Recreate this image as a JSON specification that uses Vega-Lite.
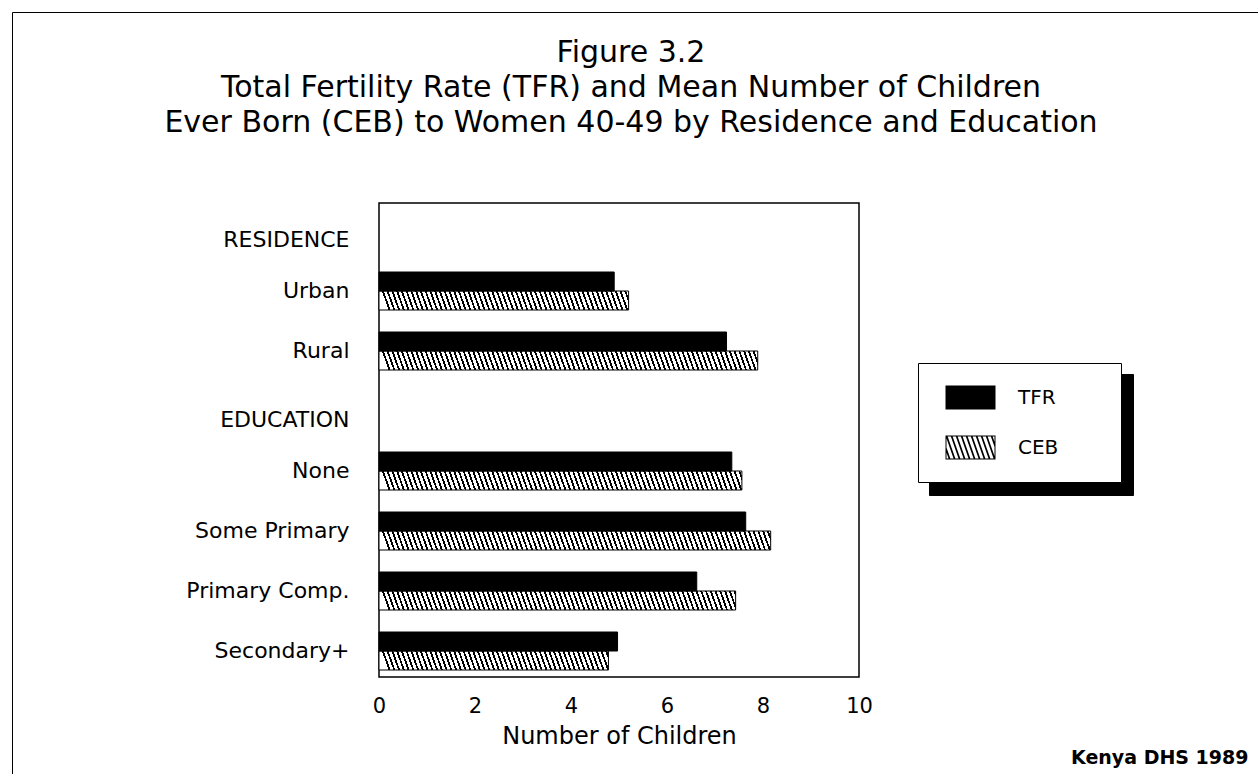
{
  "$schema": "https://vega.github.io/schema/vega-lite/v6.json",
  "width": 480,
  "height": 474,
  "autosize": {"type": "none"},
  "padding": {"left": 379, "top": 203, "right": 399, "bottom": 97},
  "background": "white",
  "title": {
    "text": ["Figure 3.2", "Total Fertility Rate (TFR) and Mean Number of Children", "Ever Born (CEB) to Women 40-49 by Residence and Education"],
    "font": "DejaVu Sans",
    "fontSize": 30,
    "fontWeight": "normal",
    "color": "black",
    "lineHeight": 35,
    "anchor": "middle",
    "frame": "group",
    "offset": -126,
    "dx": 12
  },
  "config": {
    "font": "DejaVu Sans",
    "view": {"stroke": "black", "strokeWidth": 1.5},
    "axisX": {"domain": false, "ticks": false, "grid": false, "labelFontSize": 21, "labelColor": "black", "labelPadding": 18, "labelFlush": false, "titleFontSize": 24, "titleFontWeight": "normal", "titleColor": "black", "titlePadding": 8},
    "axisY": {"domain": false, "ticks": false, "grid": false, "labelFontSize": 22, "labelColor": "black", "labelPadding": 30, "labelLimit": 300}
  },
  "data": {
    "values": [
      {"cat": "Urban", "series": "TFR", "value": 4.9},
      {"cat": "Urban", "series": "CEB", "value": 5.2},
      {"cat": "Rural", "series": "TFR", "value": 7.24},
      {"cat": "Rural", "series": "CEB", "value": 7.89},
      {"cat": "None", "series": "TFR", "value": 7.35},
      {"cat": "None", "series": "CEB", "value": 7.56},
      {"cat": "Some Primary", "series": "TFR", "value": 7.64},
      {"cat": "Some Primary", "series": "CEB", "value": 8.16},
      {"cat": "Primary Comp.", "series": "TFR", "value": 6.62},
      {"cat": "Primary Comp.", "series": "CEB", "value": 7.43},
      {"cat": "Secondary+", "series": "TFR", "value": 4.97},
      {"cat": "Secondary+", "series": "CEB", "value": 4.78}
    ]
  },
  "encoding": {
    "y": {
      "field": "cat",
      "type": "nominal",
      "scale": {"domain": ["RESIDENCE", "Urban", "Rural", "EDUCATION", "None", "Some Primary", "Primary Comp.", "Secondary+"], "paddingInner": 0.35, "paddingOuter": 0.1, "round": true},
      "axis": {
        "title": "Kenya DHS 1989",
        "titleAngle": 0,
        "titleX": 869,
        "titleY": 560,
        "titleAlign": "right",
        "titleBaseline": "alphabetic",
        "titleFontSize": 19,
        "titleFontWeight": "bold",
        "titleColor": "black",
        "labelOffset": {"condition": {"test": "datum.value === 'RESIDENCE' || datum.value === 'EDUCATION'", "value": 9}, "value": 0}
      }
    },
    "yOffset": {
      "field": "series",
      "type": "nominal",
      "scale": {"domain": ["TFR", "CEB"], "paddingInner": 0, "paddingOuter": 0, "round": true}
    },
    "x": {
      "field": "value",
      "type": "quantitative",
      "scale": {"domain": [0, 10], "nice": false},
      "axis": {"title": "Number of Children", "values": [0, 2, 4, 6, 8, 10]}
    }
  },
  "layer": [
    {
      "transform": [{"filter": "datum.series === 'CEB'"}],
      "mark": {
        "type": "bar",
        "strokeWidth": 0,
        "fill": {
          "gradient": "linear", "x1": 0, "y1": 0, "x2": 1, "y2": -0.0143,
          "stops": [
{"offset":0,"color":"#fff"},{"offset":0.006,"color":"#fff"},{"offset":0.006,"color":"#000"},{"offset":0.01,"color":"#000"},
{"offset":0.01,"color":"#fff"},{"offset":0.016,"color":"#fff"},{"offset":0.016,"color":"#000"},{"offset":0.02,"color":"#000"},
{"offset":0.02,"color":"#fff"},{"offset":0.026,"color":"#fff"},{"offset":0.026,"color":"#000"},{"offset":0.03,"color":"#000"},
{"offset":0.03,"color":"#fff"},{"offset":0.036,"color":"#fff"},{"offset":0.036,"color":"#000"},{"offset":0.04,"color":"#000"},
{"offset":0.04,"color":"#fff"},{"offset":0.046,"color":"#fff"},{"offset":0.046,"color":"#000"},{"offset":0.05,"color":"#000"},
{"offset":0.05,"color":"#fff"},{"offset":0.056,"color":"#fff"},{"offset":0.056,"color":"#000"},{"offset":0.06,"color":"#000"},
{"offset":0.06,"color":"#fff"},{"offset":0.066,"color":"#fff"},{"offset":0.066,"color":"#000"},{"offset":0.07,"color":"#000"},
{"offset":0.07,"color":"#fff"},{"offset":0.076,"color":"#fff"},{"offset":0.076,"color":"#000"},{"offset":0.08,"color":"#000"},
{"offset":0.08,"color":"#fff"},{"offset":0.086,"color":"#fff"},{"offset":0.086,"color":"#000"},{"offset":0.09,"color":"#000"},
{"offset":0.09,"color":"#fff"},{"offset":0.096,"color":"#fff"},{"offset":0.096,"color":"#000"},{"offset":0.1,"color":"#000"},
{"offset":0.1,"color":"#fff"},{"offset":0.106,"color":"#fff"},{"offset":0.106,"color":"#000"},{"offset":0.11,"color":"#000"},
{"offset":0.11,"color":"#fff"},{"offset":0.116,"color":"#fff"},{"offset":0.116,"color":"#000"},{"offset":0.12,"color":"#000"},
{"offset":0.12,"color":"#fff"},{"offset":0.126,"color":"#fff"},{"offset":0.126,"color":"#000"},{"offset":0.13,"color":"#000"},
{"offset":0.13,"color":"#fff"},{"offset":0.136,"color":"#fff"},{"offset":0.136,"color":"#000"},{"offset":0.14,"color":"#000"},
{"offset":0.14,"color":"#fff"},{"offset":0.146,"color":"#fff"},{"offset":0.146,"color":"#000"},{"offset":0.15,"color":"#000"},
{"offset":0.15,"color":"#fff"},{"offset":0.156,"color":"#fff"},{"offset":0.156,"color":"#000"},{"offset":0.16,"color":"#000"},
{"offset":0.16,"color":"#fff"},{"offset":0.166,"color":"#fff"},{"offset":0.166,"color":"#000"},{"offset":0.17,"color":"#000"},
{"offset":0.17,"color":"#fff"},{"offset":0.176,"color":"#fff"},{"offset":0.176,"color":"#000"},{"offset":0.18,"color":"#000"},
{"offset":0.18,"color":"#fff"},{"offset":0.186,"color":"#fff"},{"offset":0.186,"color":"#000"},{"offset":0.19,"color":"#000"},
{"offset":0.19,"color":"#fff"},{"offset":0.196,"color":"#fff"},{"offset":0.196,"color":"#000"},{"offset":0.2,"color":"#000"},
{"offset":0.2,"color":"#fff"},{"offset":0.206,"color":"#fff"},{"offset":0.206,"color":"#000"},{"offset":0.21,"color":"#000"},
{"offset":0.21,"color":"#fff"},{"offset":0.216,"color":"#fff"},{"offset":0.216,"color":"#000"},{"offset":0.22,"color":"#000"},
{"offset":0.22,"color":"#fff"},{"offset":0.226,"color":"#fff"},{"offset":0.226,"color":"#000"},{"offset":0.23,"color":"#000"},
{"offset":0.23,"color":"#fff"},{"offset":0.236,"color":"#fff"},{"offset":0.236,"color":"#000"},{"offset":0.24,"color":"#000"},
{"offset":0.24,"color":"#fff"},{"offset":0.246,"color":"#fff"},{"offset":0.246,"color":"#000"},{"offset":0.25,"color":"#000"},
{"offset":0.25,"color":"#fff"},{"offset":0.256,"color":"#fff"},{"offset":0.256,"color":"#000"},{"offset":0.26,"color":"#000"},
{"offset":0.26,"color":"#fff"},{"offset":0.266,"color":"#fff"},{"offset":0.266,"color":"#000"},{"offset":0.27,"color":"#000"},
{"offset":0.27,"color":"#fff"},{"offset":0.276,"color":"#fff"},{"offset":0.276,"color":"#000"},{"offset":0.28,"color":"#000"},
{"offset":0.28,"color":"#fff"},{"offset":0.286,"color":"#fff"},{"offset":0.286,"color":"#000"},{"offset":0.29,"color":"#000"},
{"offset":0.29,"color":"#fff"},{"offset":0.296,"color":"#fff"},{"offset":0.296,"color":"#000"},{"offset":0.3,"color":"#000"},
{"offset":0.3,"color":"#fff"},{"offset":0.306,"color":"#fff"},{"offset":0.306,"color":"#000"},{"offset":0.31,"color":"#000"},
{"offset":0.31,"color":"#fff"},{"offset":0.316,"color":"#fff"},{"offset":0.316,"color":"#000"},{"offset":0.32,"color":"#000"},
{"offset":0.32,"color":"#fff"},{"offset":0.326,"color":"#fff"},{"offset":0.326,"color":"#000"},{"offset":0.33,"color":"#000"},
{"offset":0.33,"color":"#fff"},{"offset":0.336,"color":"#fff"},{"offset":0.336,"color":"#000"},{"offset":0.34,"color":"#000"},
{"offset":0.34,"color":"#fff"},{"offset":0.346,"color":"#fff"},{"offset":0.346,"color":"#000"},{"offset":0.35,"color":"#000"},
{"offset":0.35,"color":"#fff"},{"offset":0.356,"color":"#fff"},{"offset":0.356,"color":"#000"},{"offset":0.36,"color":"#000"},
{"offset":0.36,"color":"#fff"},{"offset":0.366,"color":"#fff"},{"offset":0.366,"color":"#000"},{"offset":0.37,"color":"#000"},
{"offset":0.37,"color":"#fff"},{"offset":0.376,"color":"#fff"},{"offset":0.376,"color":"#000"},{"offset":0.38,"color":"#000"},
{"offset":0.38,"color":"#fff"},{"offset":0.386,"color":"#fff"},{"offset":0.386,"color":"#000"},{"offset":0.39,"color":"#000"},
{"offset":0.39,"color":"#fff"},{"offset":0.396,"color":"#fff"},{"offset":0.396,"color":"#000"},{"offset":0.4,"color":"#000"},
{"offset":0.4,"color":"#fff"},{"offset":0.406,"color":"#fff"},{"offset":0.406,"color":"#000"},{"offset":0.41,"color":"#000"},
{"offset":0.41,"color":"#fff"},{"offset":0.416,"color":"#fff"},{"offset":0.416,"color":"#000"},{"offset":0.42,"color":"#000"},
{"offset":0.42,"color":"#fff"},{"offset":0.426,"color":"#fff"},{"offset":0.426,"color":"#000"},{"offset":0.43,"color":"#000"},
{"offset":0.43,"color":"#fff"},{"offset":0.436,"color":"#fff"},{"offset":0.436,"color":"#000"},{"offset":0.44,"color":"#000"},
{"offset":0.44,"color":"#fff"},{"offset":0.446,"color":"#fff"},{"offset":0.446,"color":"#000"},{"offset":0.45,"color":"#000"},
{"offset":0.45,"color":"#fff"},{"offset":0.456,"color":"#fff"},{"offset":0.456,"color":"#000"},{"offset":0.46,"color":"#000"},
{"offset":0.46,"color":"#fff"},{"offset":0.466,"color":"#fff"},{"offset":0.466,"color":"#000"},{"offset":0.47,"color":"#000"},
{"offset":0.47,"color":"#fff"},{"offset":0.476,"color":"#fff"},{"offset":0.476,"color":"#000"},{"offset":0.48,"color":"#000"},
{"offset":0.48,"color":"#fff"},{"offset":0.486,"color":"#fff"},{"offset":0.486,"color":"#000"},{"offset":0.49,"color":"#000"},
{"offset":0.49,"color":"#fff"},{"offset":0.496,"color":"#fff"},{"offset":0.496,"color":"#000"},{"offset":0.5,"color":"#000"},
{"offset":0.5,"color":"#fff"},{"offset":0.506,"color":"#fff"},{"offset":0.506,"color":"#000"},{"offset":0.51,"color":"#000"},
{"offset":0.51,"color":"#fff"},{"offset":0.516,"color":"#fff"},{"offset":0.516,"color":"#000"},{"offset":0.52,"color":"#000"},
{"offset":0.52,"color":"#fff"},{"offset":0.526,"color":"#fff"},{"offset":0.526,"color":"#000"},{"offset":0.53,"color":"#000"},
{"offset":0.53,"color":"#fff"},{"offset":0.536,"color":"#fff"},{"offset":0.536,"color":"#000"},{"offset":0.54,"color":"#000"},
{"offset":0.54,"color":"#fff"},{"offset":0.546,"color":"#fff"},{"offset":0.546,"color":"#000"},{"offset":0.55,"color":"#000"},
{"offset":0.55,"color":"#fff"},{"offset":0.556,"color":"#fff"},{"offset":0.556,"color":"#000"},{"offset":0.56,"color":"#000"},
{"offset":0.56,"color":"#fff"},{"offset":0.566,"color":"#fff"},{"offset":0.566,"color":"#000"},{"offset":0.57,"color":"#000"},
{"offset":0.57,"color":"#fff"},{"offset":0.576,"color":"#fff"},{"offset":0.576,"color":"#000"},{"offset":0.58,"color":"#000"},
{"offset":0.58,"color":"#fff"},{"offset":0.586,"color":"#fff"},{"offset":0.586,"color":"#000"},{"offset":0.59,"color":"#000"},
{"offset":0.59,"color":"#fff"},{"offset":0.596,"color":"#fff"},{"offset":0.596,"color":"#000"},{"offset":0.6,"color":"#000"},
{"offset":0.6,"color":"#fff"},{"offset":0.606,"color":"#fff"},{"offset":0.606,"color":"#000"},{"offset":0.61,"color":"#000"},
{"offset":0.61,"color":"#fff"},{"offset":0.616,"color":"#fff"},{"offset":0.616,"color":"#000"},{"offset":0.62,"color":"#000"},
{"offset":0.62,"color":"#fff"},{"offset":0.626,"color":"#fff"},{"offset":0.626,"color":"#000"},{"offset":0.63,"color":"#000"},
{"offset":0.63,"color":"#fff"},{"offset":0.636,"color":"#fff"},{"offset":0.636,"color":"#000"},{"offset":0.64,"color":"#000"},
{"offset":0.64,"color":"#fff"},{"offset":0.646,"color":"#fff"},{"offset":0.646,"color":"#000"},{"offset":0.65,"color":"#000"},
{"offset":0.65,"color":"#fff"},{"offset":0.656,"color":"#fff"},{"offset":0.656,"color":"#000"},{"offset":0.66,"color":"#000"},
{"offset":0.66,"color":"#fff"},{"offset":0.666,"color":"#fff"},{"offset":0.666,"color":"#000"},{"offset":0.67,"color":"#000"},
{"offset":0.67,"color":"#fff"},{"offset":0.676,"color":"#fff"},{"offset":0.676,"color":"#000"},{"offset":0.68,"color":"#000"},
{"offset":0.68,"color":"#fff"},{"offset":0.686,"color":"#fff"},{"offset":0.686,"color":"#000"},{"offset":0.69,"color":"#000"},
{"offset":0.69,"color":"#fff"},{"offset":0.696,"color":"#fff"},{"offset":0.696,"color":"#000"},{"offset":0.7,"color":"#000"},
{"offset":0.7,"color":"#fff"},{"offset":0.706,"color":"#fff"},{"offset":0.706,"color":"#000"},{"offset":0.71,"color":"#000"},
{"offset":0.71,"color":"#fff"},{"offset":0.716,"color":"#fff"},{"offset":0.716,"color":"#000"},{"offset":0.72,"color":"#000"},
{"offset":0.72,"color":"#fff"},{"offset":0.726,"color":"#fff"},{"offset":0.726,"color":"#000"},{"offset":0.73,"color":"#000"},
{"offset":0.73,"color":"#fff"},{"offset":0.736,"color":"#fff"},{"offset":0.736,"color":"#000"},{"offset":0.74,"color":"#000"},
{"offset":0.74,"color":"#fff"},{"offset":0.746,"color":"#fff"},{"offset":0.746,"color":"#000"},{"offset":0.75,"color":"#000"},
{"offset":0.75,"color":"#fff"},{"offset":0.756,"color":"#fff"},{"offset":0.756,"color":"#000"},{"offset":0.76,"color":"#000"},
{"offset":0.76,"color":"#fff"},{"offset":0.766,"color":"#fff"},{"offset":0.766,"color":"#000"},{"offset":0.77,"color":"#000"},
{"offset":0.77,"color":"#fff"},{"offset":0.776,"color":"#fff"},{"offset":0.776,"color":"#000"},{"offset":0.78,"color":"#000"},
{"offset":0.78,"color":"#fff"},{"offset":0.786,"color":"#fff"},{"offset":0.786,"color":"#000"},{"offset":0.79,"color":"#000"},
{"offset":0.79,"color":"#fff"},{"offset":0.796,"color":"#fff"},{"offset":0.796,"color":"#000"},{"offset":0.8,"color":"#000"},
{"offset":0.8,"color":"#fff"},{"offset":0.806,"color":"#fff"},{"offset":0.806,"color":"#000"},{"offset":0.81,"color":"#000"},
{"offset":0.81,"color":"#fff"},{"offset":0.816,"color":"#fff"},{"offset":0.816,"color":"#000"},{"offset":0.82,"color":"#000"},
{"offset":0.82,"color":"#fff"},{"offset":0.826,"color":"#fff"},{"offset":0.826,"color":"#000"},{"offset":0.83,"color":"#000"},
{"offset":0.83,"color":"#fff"},{"offset":0.836,"color":"#fff"},{"offset":0.836,"color":"#000"},{"offset":0.84,"color":"#000"},
{"offset":0.84,"color":"#fff"},{"offset":0.846,"color":"#fff"},{"offset":0.846,"color":"#000"},{"offset":0.85,"color":"#000"},
{"offset":0.85,"color":"#fff"},{"offset":0.856,"color":"#fff"},{"offset":0.856,"color":"#000"},{"offset":0.86,"color":"#000"},
{"offset":0.86,"color":"#fff"},{"offset":0.866,"color":"#fff"},{"offset":0.866,"color":"#000"},{"offset":0.87,"color":"#000"},
{"offset":0.87,"color":"#fff"},{"offset":0.876,"color":"#fff"},{"offset":0.876,"color":"#000"},{"offset":0.88,"color":"#000"},
{"offset":0.88,"color":"#fff"},{"offset":0.886,"color":"#fff"},{"offset":0.886,"color":"#000"},{"offset":0.89,"color":"#000"},
{"offset":0.89,"color":"#fff"},{"offset":0.896,"color":"#fff"},{"offset":0.896,"color":"#000"},{"offset":0.9,"color":"#000"},
{"offset":0.9,"color":"#fff"},{"offset":0.906,"color":"#fff"},{"offset":0.906,"color":"#000"},{"offset":0.91,"color":"#000"},
{"offset":0.91,"color":"#fff"},{"offset":0.916,"color":"#fff"},{"offset":0.916,"color":"#000"},{"offset":0.92,"color":"#000"},
{"offset":0.92,"color":"#fff"},{"offset":0.926,"color":"#fff"},{"offset":0.926,"color":"#000"},{"offset":0.93,"color":"#000"},
{"offset":0.93,"color":"#fff"},{"offset":0.936,"color":"#fff"},{"offset":0.936,"color":"#000"},{"offset":0.94,"color":"#000"},
{"offset":0.94,"color":"#fff"},{"offset":0.946,"color":"#fff"},{"offset":0.946,"color":"#000"},{"offset":0.95,"color":"#000"},
{"offset":0.95,"color":"#fff"},{"offset":0.956,"color":"#fff"},{"offset":0.956,"color":"#000"},{"offset":0.96,"color":"#000"},
{"offset":0.96,"color":"#fff"},{"offset":0.966,"color":"#fff"},{"offset":0.966,"color":"#000"},{"offset":0.97,"color":"#000"},
{"offset":0.97,"color":"#fff"},{"offset":0.976,"color":"#fff"},{"offset":0.976,"color":"#000"},{"offset":0.98,"color":"#000"},
{"offset":0.98,"color":"#fff"},{"offset":0.986,"color":"#fff"},{"offset":0.986,"color":"#000"},{"offset":0.99,"color":"#000"},
{"offset":0.99,"color":"#fff"},{"offset":0.996,"color":"#fff"},{"offset":0.996,"color":"#000"},{"offset":1,"color":"#000"}
          ]
        }
      },
      "encoding": {
        "x": {"datum": 0, "type": "quantitative", "scale": {"domain": [0, 10], "nice": false}, "axis": {"title": "Number of Children", "values": [0, 2, 4, 6, 8, 10]}},
        "x2": {"datum": 9.9}
      }
    },
    {
      "transform": [{"filter": "datum.series === 'CEB'"}],
      "mark": {"type": "bar", "fill": "white", "strokeWidth": 0},
      "encoding": {
        "x2": {"datum": 9.97},
        "strokeDash": {
          "field": "series",
          "type": "nominal",
          "scale": {"domain": ["CEB"], "range": [[1, 0]]},
          "legend": {
            "orient": "none",
            "legendX": -367,
            "legendY": -191,
            "title": null,
            "zindex": 0,
            "symbolType": "M-1,-1M1245,775",
            "symbolSize": 4,
            "symbolOpacity": 0,
            "labelExpr": "''",
            "padding": 0,
            "fillColor": "transparent",
            "strokeColor": "black"
          }
        }
      }
    },
    {
      "mark": {"type": "bar", "stroke": "black", "strokeWidth": 1},
      "encoding": {
        "x2": {"datum": 0},
        "fill": {
          "field": "series",
          "type": "nominal",
          "scale": {"domain": ["CEB", "TFR"], "range": ["transparent", "black"]},
          "legend": {
            "orient": "none",
            "legendX": 550,
            "legendY": 171,
            "direction": "vertical",
            "title": null,
            "zindex": 1,
            "symbolType": "M-0.28,-0.48H1.72V0.48H-0.28ZM-1,-1M6.36,1",
            "symbolSize": 2500,
            "symbolOpacity": 0,
            "labelExpr": "''",
            "labelFontSize": 20,
            "labelOffset": 40.5,
            "padding": 9.5,
            "rowPadding": -2,
            "fillColor": "black",
            "strokeColor": "black"
          }
        }
      }
    },
    {
      "mark": {"type": "point", "filled": true, "color": "black", "opacity": 0, "size": 2500, "strokeWidth": 0},
      "encoding": {
        "shape": {
          "field": "series",
          "type": "nominal",
          "scale": {
            "domain": ["TFR", "CEB"],
            "range": [
              "M-0.28,-0.48H1.72V0.48H-0.28ZM-1,-1M6.36,1",
              "M-0.28,-0.48H1.72V-0.44H-0.28ZM-0.28,0.44H1.72V0.48H-0.28ZM-0.28,-0.48H-0.24V0.48H-0.28ZM1.68,-0.48H1.72V0.48H1.68ZM-0.28,-0.114L-0.072,0.48H-0.144L-0.28,0.091ZM-0.28,-0.48H-0.208L0.128,0.48H0.056ZM-0.08,-0.48H-0.008L0.328,0.48H0.256ZM0.12,-0.48H0.192L0.528,0.48H0.456ZM0.32,-0.48H0.392L0.728,0.48H0.656ZM0.52,-0.48H0.592L0.928,0.48H0.856ZM0.72,-0.48H0.792L1.128,0.48H1.056ZM0.92,-0.48H0.992L1.328,0.48H1.256ZM1.12,-0.48H1.192L1.528,0.48H1.456ZM1.32,-0.48H1.392L1.72,0.458V0.48H1.656ZM1.52,-0.48H1.592L1.72,-0.114V0.091ZM-1,-1M6.36,1"
            ]
          },
          "legend": {
            "orient": "none",
            "legendX": 539,
            "legendY": 160,
            "direction": "vertical",
            "title": null,
            "zindex": 2,
            "symbolSize": 2500,
            "symbolOpacity": 1,
            "symbolFillColor": "black",
            "symbolStrokeWidth": 0,
            "labelFont": "DejaVu Sans",
            "labelFontSize": 20,
            "labelColor": "black",
            "labelOffset": 40.5,
            "padding": 9.5,
            "rowPadding": -2,
            "fillColor": "white",
            "strokeColor": "black"
          }
        }
      }
    }
  ]
}
